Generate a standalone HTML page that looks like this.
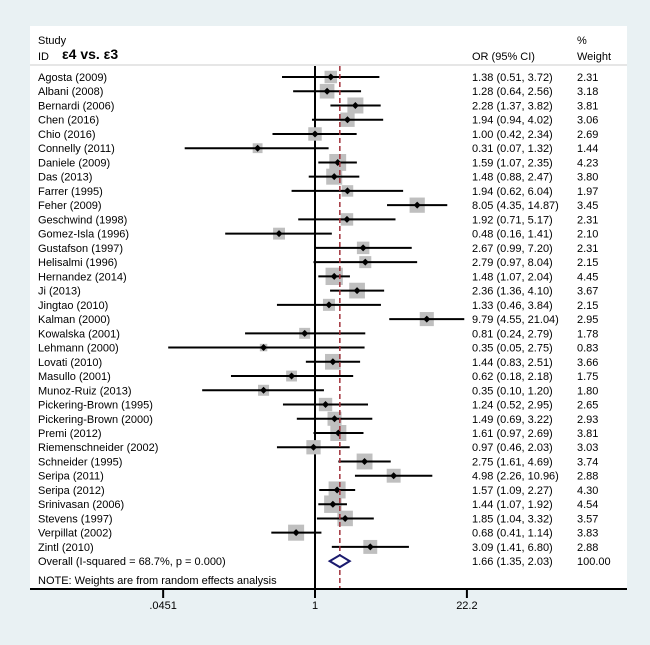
<!DOCTYPE html>
<html><head><meta charset="utf-8"><style>
body{margin:0;background:#e9f1f3;}
svg{display:block;font-family:"Liberation Sans",Arial,sans-serif;}
</style></head><body>
<svg id="chart" width="650" height="645">
<rect x="0" y="0" width="650" height="645" fill="#e9f1f3"/>
<rect x="30" y="26" width="597" height="563" fill="#fff"/>
<text x="38" y="44" font-size="11">Study</text>
<text x="38" y="60" font-size="11">ID</text>
<text x="62" y="59" font-size="14" font-weight="bold" font-family="'Liberation Sans','DejaVu Sans',sans-serif">ε4 vs. ε3</text>
<text x="472" y="60" font-size="11">OR (95% CI)</text>
<text x="577" y="44" font-size="11">%</text>
<text x="577" y="60" font-size="11">Weight</text>
<line x1="30" y1="65" x2="627" y2="65" stroke="#ccc" stroke-width="1"/>
<g id="rows"></g>
<line x1="30" y1="589" x2="627" y2="589" stroke="#000" stroke-width="2"/>
<g id="ticks"></g>
</svg>
<script>
const studies=["Agosta (2009)","Albani (2008)","Bernardi (2006)","Chen (2016)","Chio (2016)","Connelly (2011)","Daniele (2009)","Das (2013)","Farrer (1995)","Feher (2009)","Geschwind (1998)","Gomez-Isla (1996)","Gustafson (1997)","Helisalmi (1996)","Hernandez (2014)","Ji (2013)","Jingtao (2010)","Kalman (2000)","Kowalska (2001)","Lehmann (2000)","Lovati (2010)","Masullo (2001)","Munoz-Ruiz (2013)","Pickering-Brown (1995)","Pickering-Brown (2000)","Premi (2012)","Riemenschneider (2002)","Schneider (1995)","Seripa (2011)","Seripa (2012)","Srinivasan (2006)","Stevens (1997)","Verpillat (2002)","Zintl (2010)"];
const orVals=[1.38,1.28,2.28,1.94,1.00,0.31,1.59,1.48,1.94,8.05,1.92,0.48,2.67,2.79,1.48,2.36,1.33,9.79,0.81,0.35,1.44,0.62,0.35,1.24,1.49,1.61,0.97,2.75,4.98,1.57,1.44,1.85,0.68,3.09];
const lowVals=[0.51,0.64,1.37,0.94,0.42,0.07,1.07,0.88,0.62,4.35,0.71,0.16,0.99,0.97,1.07,1.36,0.46,4.55,0.24,0.05,0.83,0.18,0.10,0.52,0.69,0.97,0.46,1.61,2.26,1.09,1.07,1.04,0.41,1.41];
const highVals=[3.72,2.56,3.82,4.02,2.34,1.32,2.35,2.47,6.04,14.87,5.17,1.41,7.20,8.04,2.04,4.10,3.84,21.04,2.79,2.75,2.51,2.18,1.20,2.95,3.22,2.69,2.03,4.69,10.96,2.27,1.92,3.32,1.14,6.80];
const weights=[2.31,3.18,3.81,3.06,2.69,1.44,4.23,3.80,1.97,3.45,2.31,2.10,2.31,2.15,4.45,3.67,2.15,2.95,1.78,0.83,3.66,1.75,1.80,2.65,2.93,3.81,3.03,3.74,2.88,4.30,4.54,3.57,3.83,2.88];
const overall=[1.66,1.35,2.03];
const overallLabel="Overall  (I-squared = 68.7%, p = 0.000)";
const tickVals=[0.0451,1,22.2];
const tickLabels=[".0451","1","22.2"];
const NS="http://www.w3.org/2000/svg";
const X=v=>315+49*Math.log(v);
const Y=i=>77+i*14.24;
const fmt=v=>v.toFixed(2);
const rows=document.getElementById('rows');
function mk(tag,attrs,parent){const e=document.createElementNS(NS,tag);for(const k in attrs)e.setAttribute(k,attrs[k]);(parent||rows).appendChild(e);return e;}
const yTop=66,yBot=589;
const nullLine=mk('line',{x1:X(1),y1:yTop,x2:X(1),y2:yBot,stroke:'#000','stroke-width':2});


studies.forEach((s,i)=>{
  const y=Y(i);
  const side=8.2*Math.sqrt(weights[i]);
  const box=mk('rect',{x:X(orVals[i])-side/2,y:y-side/2,width:side,height:side,fill:'#bfbfbf'});
  
  
  const ci=mk('line',{x1:X(lowVals[i]),y1:y,x2:X(highVals[i]),y2:y,stroke:'#000','stroke-width':2});
  
  
  const pt=mk('path',{d:`M${X(orVals[i])-3.5},${y}L${X(orVals[i])},${y-3.5}L${X(orVals[i])+3.5},${y}L${X(orVals[i])},${y+3.5}Z`,fill:'#000'});
  
  
  const t1=mk('text',{x:38,y:y+4,'font-size':11});t1.textContent=s;
  
  
  const t2=mk('text',{x:472,y:y+4,'font-size':11});t2.textContent=`${fmt(orVals[i])} (${fmt(lowVals[i])}, ${fmt(highVals[i])})`;
  
  
  const t3=mk('text',{x:577,y:y+4,'font-size':11});t3.textContent=fmt(weights[i]);
  
  
});
const oy=Y(studies.length);
const ol=mk('line',{x1:X(overall[0]),y1:yTop,x2:X(overall[0]),y2:yBot,stroke:'#a0303a','stroke-width':1.5,'stroke-dasharray':'5,3'});


const dia=mk('path',{d:`M${X(overall[1])},${oy}L${X(overall[0])},${oy-6}L${X(overall[2])},${oy}L${X(overall[0])},${oy+6}Z`,fill:'#fff',stroke:'#1a1a6e','stroke-width':2});


const o1=mk('text',{x:38,y:oy+4,'font-size':11});o1.textContent=overallLabel;


const o2=mk('text',{x:472,y:oy+4,'font-size':11});o2.textContent=`${fmt(overall[0])} (${fmt(overall[1])}, ${fmt(overall[2])})`;


const o3=mk('text',{x:577,y:oy+4,'font-size':11});o3.textContent="100.00";


const note=mk('text',{x:38,y:584,'font-size':11});note.textContent="NOTE: Weights are from random effects analysis";


const tg=document.getElementById('ticks');
tickVals.forEach((v,i)=>{
  const tk=mk('line',{x1:X(v),y1:589,x2:X(v),y2:598,stroke:'#000','stroke-width':2},tg);
  
  
  const tl=mk('text',{x:X(v),y:609,'font-size':11,'text-anchor':'middle'},tg);tl.textContent=tickLabels[i];
  
  
});
</script>
</body></html>
